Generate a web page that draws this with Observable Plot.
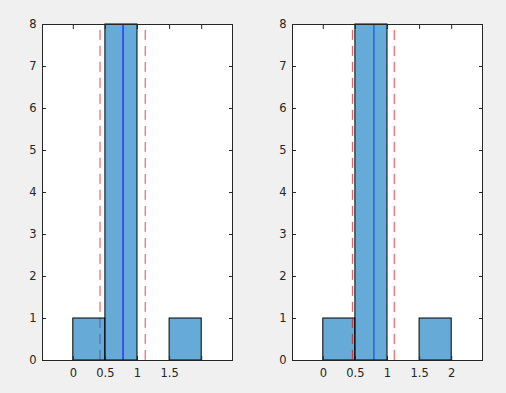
<!DOCTYPE html>
<html><head><meta charset="utf-8">
<script src="https://cdn.jsdelivr.net/npm/d3@7"></script>
<script src="https://cdn.jsdelivr.net/npm/@observablehq/plot@0.6"></script>
<style>
html,body{margin:0;padding:0;background:#f0f0f0;}
#fig{position:relative;width:506px;height:393px;overflow:hidden;background:#f0f0f0;}
#fig svg{position:absolute;top:0;}
#fig svg text{font-size:11.5px !important;font-family:"DejaVu Sans",sans-serif;fill:#262626;}
</style></head><body><div id="fig"></div>
<script>
// Histogram bins (shared edges) and counts
const binStarts = [0, 0.5, 1.5];
const binEnds = [0.5, 1, 2];
const leftCounts = [1, 8, 1];
const rightCounts = [1, 8, 1];
// Reference lines
const leftRed = [0.416, 1.12];
const leftCenter = [0.775];
const rightRed = [0.453, 1.105];
const rightCenter = [0.789];
const dashTop = [7.86];
// Axes
const xTicks = [0, 0.5, 1, 1.5, 2];
const leftXLabels = ["0", "0.5", "1", "1.5", ""];
const rightXLabels = ["0", "0.5", "1", "1.5", "2"];
const yTicks = [0, 1, 2, 3, 4, 5, 6, 7, 8];
const xDomain = [-0.48, 2.48];
const yDomain = [0, 8];

function panel({counts, red, center, labels, width, marginLeft, marginRight, redOnTop, left}) {
  const bins = counts.map((c, i) => ({x1: binStarts[i], x2: binEnds[i], y: c}));
  const redRules = Plot.ruleX(red, {x: d => d, y1: dashTop[0], y2: yDomain[0], stroke: "red", strokeOpacity: 0.75, strokeDasharray: "10,6"});
  const centerRule = Plot.ruleX(center, {x: d => d, y1: yDomain[1], y2: yDomain[0], stroke: "blue"});
  const bars = Plot.rectY(bins, {x1: "x1", x2: "x2", y1: 0, y2: "y", fill: "#0072bd", fillOpacity: 0.6, stroke: "black", strokeWidth: 1});
  const fmt = d => labels[xTicks.indexOf(d)];
  const lines = redOnTop ? [centerRule, bars, redRules] : [redRules, bars, centerRule];
  const svg = Plot.plot({
    width, height: 393,
    marginLeft, marginRight, marginTop: 24, marginBottom: 33,
    x: {domain: xDomain},
    y: {domain: yDomain},
    style: {fontFamily: "DejaVu Sans, sans-serif", fontSize: "11.5px", color: "#262626", background: "transparent", overflow: "visible"},
    marks: [
      Plot.frame({fill: "white", stroke: null}),
      ...lines,
      Plot.axisY({ticks: yTicks, anchor: "left", tickSize: -4, tickPadding: 10, label: null}),
      Plot.axisY({ticks: yTicks, anchor: "right", tickSize: -4, tickFormat: () => "", label: null}),
      Plot.axisX({ticks: xTicks, anchor: "bottom", tickSize: -4, tickPadding: 12, tickFormat: fmt, label: null}),
      Plot.axisX({ticks: xTicks, anchor: "top", tickSize: -4, tickFormat: () => "", label: null}),
      Plot.frame({stroke: "#262626"})
    ]
  });
  svg.style.left = left + "px";
  return svg;
}

const fig = document.getElementById("fig");
fig.appendChild(panel({counts: leftCounts, red: leftRed, center: leftCenter, labels: leftXLabels, width: 253, marginLeft: 42, marginRight: 21, redOnTop: false, left: 0}));
fig.appendChild(panel({counts: rightCounts, red: rightRed, center: rightCenter, labels: rightXLabels, width: 256, marginLeft: 42, marginRight: 24, redOnTop: true, left: 250}));
</script></body></html>
